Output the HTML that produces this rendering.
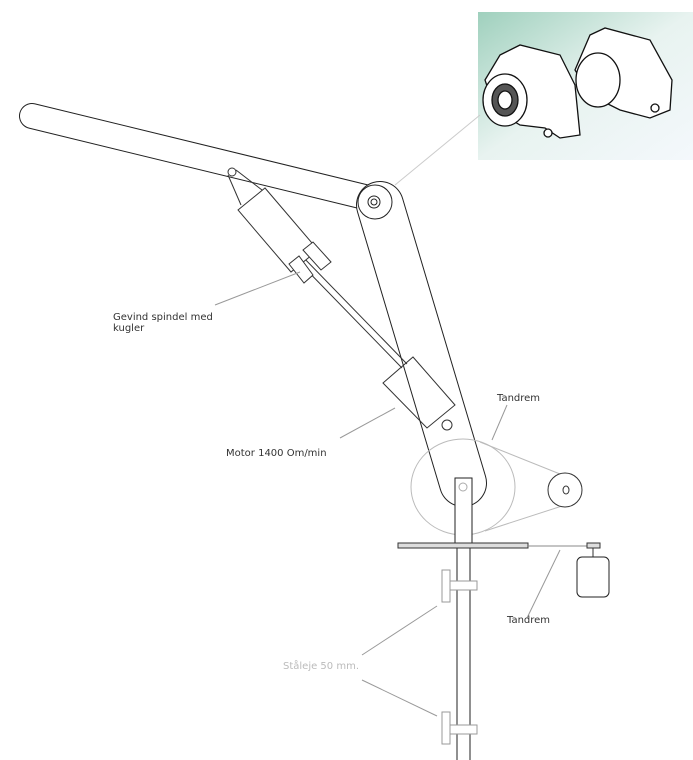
<!DOCTYPE html>
<html><head><style>body{margin:0;background:#fff}svg{display:block}text{font-family:"DejaVu Sans","Liberation Sans",sans-serif;font-size:10px;fill:#333}</style></head>
<body>
<svg width="693" height="760" viewBox="0 0 693 760" xmlns="http://www.w3.org/2000/svg">
<defs>
<linearGradient id="g" x1="0" y1="0" x2="1" y2="1">
<stop offset="0" stop-color="#9fd0bd"/><stop offset="0.5" stop-color="#e8f3f0"/><stop offset="1" stop-color="#f4f8fc"/></linearGradient>
</defs>
<rect x="478" y="12" width="215" height="148" fill="url(#g)"/>
<g fill="#fff" stroke="#111" stroke-width="1.3">
<path d="M500 55 L520 45 L560 55 L575 85 L580 135 L560 138 L545 128 L520 125 L495 110 L485 80 Z"/>
<ellipse cx="505" cy="100" rx="22" ry="26"/>
<ellipse cx="505" cy="100" rx="13" ry="16" fill="#555"/>
<ellipse cx="505" cy="100" rx="7" ry="9" fill="#fff"/>
<path d="M590 35 L605 28 L650 40 L672 80 L670 110 L650 118 L620 110 L590 95 L575 70 Z"/>
<ellipse cx="598" cy="80" rx="22" ry="27"/>
<circle cx="548" cy="133" r="4"/><circle cx="655" cy="108" r="4"/>
</g>
<line x1="395" y1="185" x2="480" y2="115" stroke="#ccc"/>
<line x1="32" y1="116" x2="377" y2="200" stroke="#222" stroke-width="26" stroke-linecap="round"/>
<line x1="32" y1="116" x2="377" y2="200" stroke="#fff" stroke-width="24" stroke-linecap="round"/>
<line x1="380" y1="205" x2="463" y2="483" stroke="#222" stroke-width="48" stroke-linecap="round"/>
<line x1="380" y1="205" x2="463" y2="483" stroke="#fff" stroke-width="46" stroke-linecap="round"/>
<circle cx="375" cy="202" r="17" fill="#fff" stroke="#222"/>
<circle cx="374" cy="202" r="6" fill="#fff" stroke="#222"/>
<circle cx="374" cy="202" r="3" fill="#fff" stroke="#222"/>
<g fill="#fff" stroke="#333">
<line x1="228" y1="175" x2="241" y2="205"/>
<line x1="236" y1="170" x2="262" y2="190"/>
<circle cx="232" cy="172" r="4"/>
<line x1="295" y1="258" x2="402" y2="368"/>
<line x1="300" y1="254" x2="407" y2="364"/>
<polygon points="238,210 265,188 318,250 291,272"/>
<polygon points="289,264 299,256 313,275 304,283"/>
<polygon points="303,250 313,242 331,262 321,270"/>
<polygon points="383,383 413,357 455,405 427,428" fill="none"/>
<circle cx="447" cy="425" r="5"/>
</g>
<ellipse cx="463" cy="487" rx="52" ry="48" fill="none" stroke="#bbb"/>
<line x1="480" y1="442" x2="560" y2="474" stroke="#bbb"/>
<line x1="485" y1="531" x2="562" y2="506" stroke="#bbb"/>
<circle cx="565" cy="490" r="17" fill="#fff" stroke="#333"/>
<ellipse cx="566" cy="490" rx="3" ry="4" fill="none" stroke="#333"/>
<rect x="455" y="478" width="17" height="67" fill="#fff" stroke="#222"/>
<ellipse cx="463" cy="487" rx="4" ry="4" fill="none" stroke="#aaa"/>
<line x1="457" y1="548" x2="457" y2="760" stroke="#222"/>
<line x1="470" y1="548" x2="470" y2="760" stroke="#222"/>
<rect x="398" y="543" width="130" height="5" fill="#ddd" stroke="#333"/>
<line x1="528" y1="546" x2="588" y2="546" stroke="#888"/>
<rect x="587" y="543" width="13" height="5" fill="#ddd" stroke="#333"/>
<line x1="593" y1="548" x2="593" y2="557" stroke="#333"/>
<rect x="577" y="557" width="32" height="40" rx="5" fill="#fff" stroke="#222"/>
<g fill="#fff" stroke="#999">
<rect x="442" y="570" width="8" height="32"/><rect x="450" y="581" width="27" height="9"/>
<rect x="442" y="712" width="8" height="32"/><rect x="450" y="725" width="27" height="9"/>
</g>
<g stroke="#999" fill="none">
<line x1="215" y1="305" x2="300" y2="272"/>
<line x1="340" y1="438" x2="395" y2="408"/>
<line x1="507" y1="405" x2="492" y2="440"/>
<line x1="527" y1="618" x2="560" y2="550"/>
<line x1="362" y1="655" x2="437" y2="606"/>
<line x1="362" y1="680" x2="437" y2="716"/>
</g>
<text x="113" y="320">Gevind spindel med</text>
<text x="113" y="331">kugler</text>
<text x="226" y="456">Motor 1400 Om/min</text>
<text x="497" y="401">Tandrem</text>
<text x="507" y="623">Tandrem</text>
<text x="283" y="669" style="fill:#bbb">Ståleje 50 mm.</text>
</svg>
</body></html>
